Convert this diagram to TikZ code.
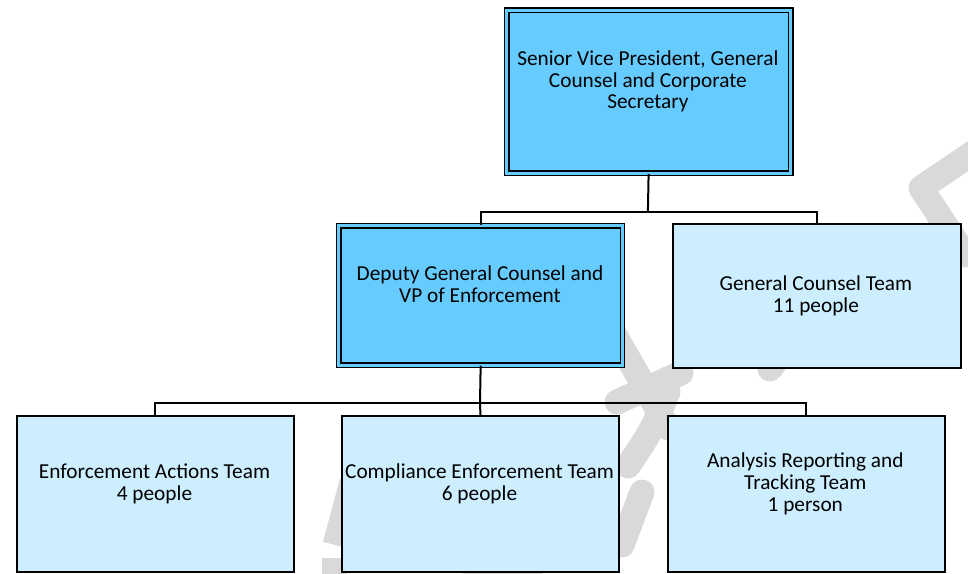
\documentclass[tikz,border=0pt]{standalone}
\usepackage{fontspec}
\setmainfont{Carlito}
\definecolor{darkfill}{HTML}{66CCFF}
\definecolor{lightfill}{HTML}{CCEEFF}
\definecolor{wmgray}{HTML}{D9D9D9}
\tikzset{
  wm/.style={draw=wmgray, line width=25pt, line cap=round, line join=round},
  dbox/.style={rectangle, draw=black, line width=1.4pt, double=darkfill, double distance=3pt, fill=darkfill, inner sep=0pt, anchor=north west},
  lbox/.style={rectangle, draw=black, line width=1.9pt, fill=lightfill, inner sep=0pt, anchor=north west},
  lbl/.style={align=center, inner sep=0pt, font=\fontsize{21.3}{21.8}\selectfont},
  conn/.style={draw=black, line width=2pt}
}
\begin{document}
\begin{tikzpicture}[x=1pt, y=-1pt]
\useasboundingbox (0,0) rectangle (968,573);
% watermark fragments
\draw[wm] (980,148) -- (921,188) -- (965,255);
\draw[wm] (612,330) -- (668,428);
\draw[wm] (617,402) -- (681,373);
\draw[wm] (800,330) -- (770,369);
\draw[wm] (668,392) .. controls (652,430) .. (628,466);
\draw[wm] (642,492) -- (622,545);
\draw[wm, line cap=butt] (352,482) -- (335,545);
\draw[wm, line cap=butt] (334,558) -- (334,585);
\draw[wm] (440,590) -- (530,575);
% boxes
\node[dbox, minimum width=284pt, minimum height=163.2pt] (top) at (505.9,9.3) {};
\node[dbox, minimum width=283.5pt, minimum height=139.1pt] (dep) at (338.2,225.2) {};
\node[lbox, minimum width=288.3pt, minimum height=143.7pt] (gc) at (671.7,223) {};
\node[lbox, minimum width=277.6pt, minimum height=155.7pt] (enf) at (15.7,415) {};
\node[lbox, minimum width=277.6pt, minimum height=155.7pt] (comp) at (340.7,415) {};
\node[lbox, minimum width=277.3pt, minimum height=155.7pt] (ana) at (666.7,415) {};
% labels
\node[lbl] (ttop) at (647.9,81.5) {Senior Vice President, General\\Counsel and Corporate\\Secretary};
\node[lbl] (tdep) at (480,284) {Deputy General Counsel and\\VP of Enforcement};
\node[lbl] (tgc) at (815.9,296) {General Counsel Team\\11 people};
\node[lbl] (tenf) at (154.5,484) {Enforcement Actions Team\\4 people};
\node[lbl] (tcomp) at (479.5,484) {Compliance Enforcement Team\\6 people};
\node[lbl] (tana) at (805.3,484) {Analysis Reporting and\\Tracking Team\\1 person};
% connectors
\coordinate (j1) at (647.9,211.5);
\coordinate (j2) at (480,402.7);
\draw[conn] (top.south) -- (j1);
\draw[conn] (j1) -| (dep.north);
\draw[conn] (j1) -| (gc.north);
\draw[conn] (dep.south) -- (j2);
\draw[conn] (j2) -| (enf.north);
\draw[conn] (j2) -- (comp.north);
\draw[conn] (j2) -| (ana.north);
\end{tikzpicture}
\end{document}
